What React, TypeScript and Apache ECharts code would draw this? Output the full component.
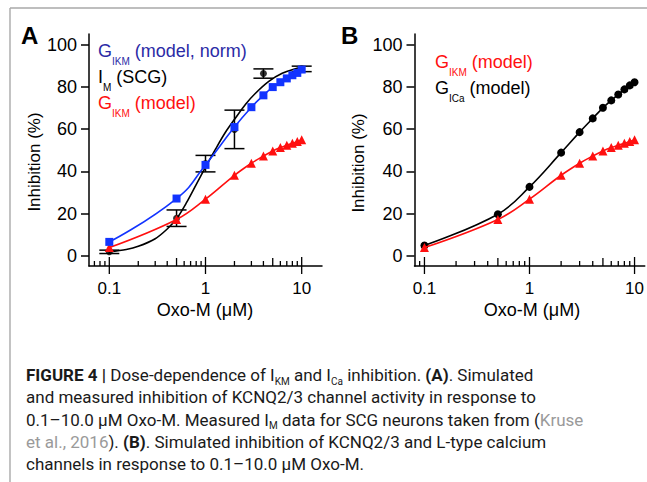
import React, { useEffect, useRef } from "react";
import * as echarts from "echarts";

// ---------- data ----------
const xTickLabels = [0.1, 1, 10];
const xMidTicks = [0.5, 5];
const xMinorTicksA = [0.07, 0.08, 0.09, 0.2, 0.3, 0.4, 0.6, 0.7, 0.8, 0.9, 2, 3, 4, 6, 7, 8, 9];
const xMinorTicksB = [0.09, 0.2, 0.3, 0.4, 0.6, 0.7, 0.8, 0.9, 2, 3, 4, 6, 7, 8, 9];
const yTickValues = [0, 20, 40, 60, 80, 100];

const doses = [0.1, 0.5, 1, 2, 3, 4, 5, 6, 7, 8, 9, 10];
const gikmNorm = [6.7, 27.2, 43.1, 61.0, 70.4, 76.0, 79.9, 82.2, 84.0, 85.5, 86.6, 88.2];
const gikmModel = [4.0, 17.3, 26.9, 38.2, 43.9, 47.3, 49.7, 51.3, 52.4, 53.3, 54.2, 55.0];
const gicaModel = [5.0, 19.8, 32.7, 48.9, 58.6, 65.1, 70.1, 73.6, 76.4, 78.8, 80.7, 82.2];

const scgDoses = [0.1, 0.5, 1, 2, 4, 10];
const scgMean = [2.0, 17.9, 43.7, 59.9, 86.3, 88.5];
const scgErr = [0.8, 3.9, 3.9, 9.1, 2.2, 1.3];

const fitDoses = [0.1, 0.15, 0.2, 0.3, 0.4, 0.5, 0.63, 0.8, 1.0, 1.28, 1.6, 2.05, 2.61, 3.31, 4.55, 6.27, 8.6, 10];
const fitValues = [2.0, 3.1, 4.6, 8.2, 12.8, 17.6, 25.0, 33.8, 42.0, 50.8, 58.3, 65.3, 71.8, 77.0, 82.6, 86.4, 88.6, 89.3];

// ---------- styles ----------
const FONT = "'Liberation Sans', Arial, Helvetica, sans-serif";
const CAP_FONT = "Roboto, 'Liberation Sans', sans-serif";
const BLUE = "#1234ff";
const BLUE_TEXT = "#2b2ba6";
const RED = "#ff1010";

const pair = (xs: number[], ys: number[]) => xs.map((x, i) => [x, ys[i]]);

function tickData(minor: number[]) {
  return [
    ...xTickLabels.map((v) => [v, 2]),
    ...xMidTicks.map((v) => [v, 1]),
    ...minor.map((v) => [v, 0]),
  ];
}

function tickSeries(idx: number, minor: number[]) {
  return {
    type: "custom",
    xAxisIndex: idx,
    yAxisIndex: idx,
    clip: false,
    silent: true,
    encode: { x: 0, y: 1 },
    data: tickData(minor),
    renderItem: (params: any, api: any) => {
      const v = api.value(0);
      const kind = api.value(1);
      const pt = api.coord([v, 50]);
      const cs = params.coordSys;
      const yb = cs.y + cs.height;
      const up = kind === 2 ? 9 : kind === 1 ? 8 : 5;
      const down = kind === 2 ? 8 : 0;
      return {
        type: "line",
        shape: { x1: pt[0], y1: yb - up, x2: pt[0], y2: yb + down },
        style: { stroke: "#000", lineWidth: 1.3 },
      };
    },
  };
}

function xAxis(idx: number, min: number, max: number) {
  return {
    type: "log",
    logBase: 10,
    gridIndex: idx,
    min,
    max,
    axisLine: { show: true, onZero: false, lineStyle: { color: "#000", width: 1.5 } },
    axisTick: { show: false },
    axisLabel: {
      customValues: xTickLabels,
      margin: 15,
      fontSize: 17,
      lineHeight: 14,
      fontFamily: FONT,
      color: "#000",
      formatter: (v: number) => (v < 0.5 ? "0.1" : v < 5 ? "1" : "10"),
    },
    splitLine: { show: false },
  };
}

function yAxis(idx: number) {
  return {
    type: "value",
    gridIndex: idx,
    min: -4.7,
    max: 105,
    axisLine: { show: true, onZero: false, lineStyle: { color: "#000", width: 1.5 } },
    axisTick: {
      show: true,
      inside: false,
      length: 8,
      customValues: yTickValues,
      lineStyle: { color: "#000", width: 1.5 },
    },
    axisLabel: {
      customValues: yTickValues,
      margin: 12,
      fontSize: 18,
      fontFamily: FONT,
      color: "#000",
    },
    splitLine: { show: false },
  };
}

const legendRich = (color: string) => ({
  m: { fontSize: 18, fontFamily: FONT, fill: color, lineHeight: 30 },
  s: { fontSize: 10, fontFamily: FONT, fill: color, lineHeight: 10, verticalAlign: "bottom" },
});

function legendText(x: number, top: number, text: string, color: string) {
  return {
    type: "text",
    x,
    y: top,
    style: {
      text,
      rich: legendRich(color),
      verticalAlign: "top",
      align: "left",
      fill: color,
      fontSize: 18,
      fontFamily: FONT,
      lineHeight: 30,
    },
  };
}

const captionText =
  "{b|FIGURE 4 |} Dose-dependence of I{s|KM} and I{s|Ca} inhibition. {b|(A)}. Simulated\n" +
  "and measured inhibition of KCNQ2/3 channel activity in response to\n" +
  "0.1–10.0 μM Oxo-M. Measured I{s|M} data for SCG neurons taken from ({g|Kruse}\n" +
  "{g|et al., 2016}). {b|(B)}. Simulated inhibition of KCNQ2/3 and L-type calcium\n" +
  "channels in response to 0.1–10.0 μM Oxo-M.";

export default function App() {
  const ref = useRef<HTMLDivElement>(null);

  useEffect(() => {
    if (!ref.current) return;
    const chart = echarts.init(ref.current, undefined, { renderer: "svg" });

    const option: any = {
      animation: false,
      backgroundColor: "#ffffff",
      grid: [
        { left: 89, top: 34, width: 233, height: 232 },
        { left: 414.5, top: 34, width: 232.5, height: 232 },
      ],
      xAxis: [xAxis(0, 0.0615, 16.26), xAxis(1, 0.0804, 12.51)],
      yAxis: [yAxis(0), yAxis(1)],
      series: [
        // Panel A
        {
          type: "line",
          name: "IM fit",
          xAxisIndex: 0,
          yAxisIndex: 0,
          data: pair(fitDoses, fitValues),
          smooth: 0.3,
          symbol: "none",
          lineStyle: { color: "#000", width: 1.6 },
          z: 2,
        },
        {
          type: "custom",
          name: "IM err",
          xAxisIndex: 0,
          yAxisIndex: 0,
          clip: false,
          encode: { x: 0, y: [1, 2] },
          data: scgDoses.map((d, i) => [d, scgMean[i] - scgErr[i], scgMean[i] + scgErr[i]]),
          renderItem: (params: any, api: any) => {
            const x = api.value(0);
            const lo = api.coord([x, api.value(1)]);
            const hi = api.coord([x, api.value(2)]);
            const hw = 10;
            const st = { stroke: "#000", lineWidth: 1.5 };
            return {
              type: "group",
              children: [
                { type: "line", shape: { x1: lo[0], y1: lo[1], x2: hi[0], y2: hi[1] }, style: st },
                { type: "line", shape: { x1: hi[0] - hw, y1: hi[1], x2: hi[0] + hw, y2: hi[1] }, style: st },
                { type: "line", shape: { x1: lo[0] - hw, y1: lo[1], x2: lo[0] + hw, y2: lo[1] }, style: st },
              ],
            };
          },
          z: 3,
        },
        {
          type: "scatter",
          name: "IM (SCG)",
          xAxisIndex: 0,
          yAxisIndex: 0,
          data: pair(scgDoses, scgMean),
          symbol: "circle",
          symbolSize: 7,
          itemStyle: { color: "#000" },
          z: 3,
        },
        {
          type: "line",
          name: "GIKM (model)",
          xAxisIndex: 0,
          yAxisIndex: 0,
          data: pair(doses, gikmModel),
          smooth: 0.4,
          symbol: "triangle",
          symbolSize: 9,
          itemStyle: { color: RED },
          lineStyle: { color: RED, width: 1.6 },
          z: 4,
        },
        {
          type: "line",
          name: "GIKM (model, norm)",
          xAxisIndex: 0,
          yAxisIndex: 0,
          data: pair(doses, gikmNorm),
          smooth: 0.5,
          symbol: "rect",
          symbolSize: 8,
          itemStyle: { color: BLUE },
          lineStyle: { color: BLUE, width: 1.6 },
          z: 5,
        },
        tickSeries(0, xMinorTicksA),
        // Panel B
        {
          type: "line",
          name: "GICa (model)",
          xAxisIndex: 1,
          yAxisIndex: 1,
          data: pair(doses, gicaModel),
          smooth: 0.4,
          symbol: "circle",
          symbolSize: 8,
          itemStyle: { color: "#000" },
          lineStyle: { color: "#000", width: 1.6 },
          z: 3,
        },
        {
          type: "line",
          name: "GIKM (model) B",
          xAxisIndex: 1,
          yAxisIndex: 1,
          data: pair(doses, gikmModel),
          smooth: 0.4,
          symbol: "triangle",
          symbolSize: 9,
          itemStyle: { color: RED },
          lineStyle: { color: RED, width: 1.6 },
          z: 4,
        },
        tickSeries(1, xMinorTicksB),
      ],
      graphic: [
        // frame
        { type: "line", shape: { x1: 10, y1: 8, x2: 647, y2: 8 }, style: { stroke: "#a9a9a9", lineWidth: 1.4 } },
        { type: "line", shape: { x1: 10, y1: 8, x2: 10, y2: 482 }, style: { stroke: "#a9a9a9", lineWidth: 1.4 } },
        // panel letters
        { type: "text", x: 21, y: 35, style: { text: "A", font: `bold 24px ${FONT}`, fill: "#000", verticalAlign: "middle" } },
        { type: "text", x: 341, y: 35, style: { text: "B", font: `bold 24px ${FONT}`, fill: "#000", verticalAlign: "middle" } },
        // axis names
        { type: "text", x: 34, y: 162, rotation: Math.PI / 2, style: { text: "Inhibition (%)", font: `17px ${FONT}`, fill: "#000", align: "center", verticalAlign: "middle" } },
        { type: "text", x: 358, y: 163, rotation: Math.PI / 2, style: { text: "Inhibition (%)", font: `17px ${FONT}`, fill: "#000", align: "center", verticalAlign: "middle" } },
        { type: "text", x: 205, y: 310, style: { text: "Oxo-M (μM)", font: `18px ${FONT}`, lineHeight: 14, fill: "#000", align: "center", verticalAlign: "middle" } },
        { type: "text", x: 532, y: 310, style: { text: "Oxo-M (μM)", font: `18px ${FONT}`, lineHeight: 14, fill: "#000", align: "center", verticalAlign: "middle" } },
        // legends A
        legendText(98, 36, "{m|G}{s|IKM}{m| (model, norm)}", BLUE_TEXT),
        legendText(98, 62, "{m|I}{s|M}{m| (SCG)}", "#000"),
        legendText(98, 88, "{m|G}{s|IKM}{m| (model)}", RED),
        // legends B
        legendText(435, 47, "{m|G}{s|IKM}{m| (model)}", RED),
        legendText(435, 73, "{m|G}{s|ICa}{m| (model)}", "#000"),
        // caption
        {
          type: "text",
          x: 26,
          y: 364,
          style: {
            text: captionText,
            fill: "#1a1a1a",
            fontSize: 17,
            fontFamily: CAP_FONT,
            lineHeight: 22.2,
            verticalAlign: "top",
            align: "left",
            rich: {
              b: { fontSize: 17, fontFamily: CAP_FONT, fontWeight: "bold", fill: "#1a1a1a", lineHeight: 22.2 },
              s: { fontSize: 10, fontFamily: CAP_FONT, fill: "#1a1a1a", lineHeight: 10, verticalAlign: "bottom" },
              g: { fontSize: 17, fontFamily: CAP_FONT, fill: "#9a9a9a", lineHeight: 22.2 },
            },
          },
        },
      ],
    };

    chart.setOption(option);
    return () => chart.dispose();
  }, []);

  return (
    <div
      ref={ref}
      style={{ position: "fixed", left: 0, top: 0, width: 647, height: 482, background: "#fff" }}
    />
  );
}
